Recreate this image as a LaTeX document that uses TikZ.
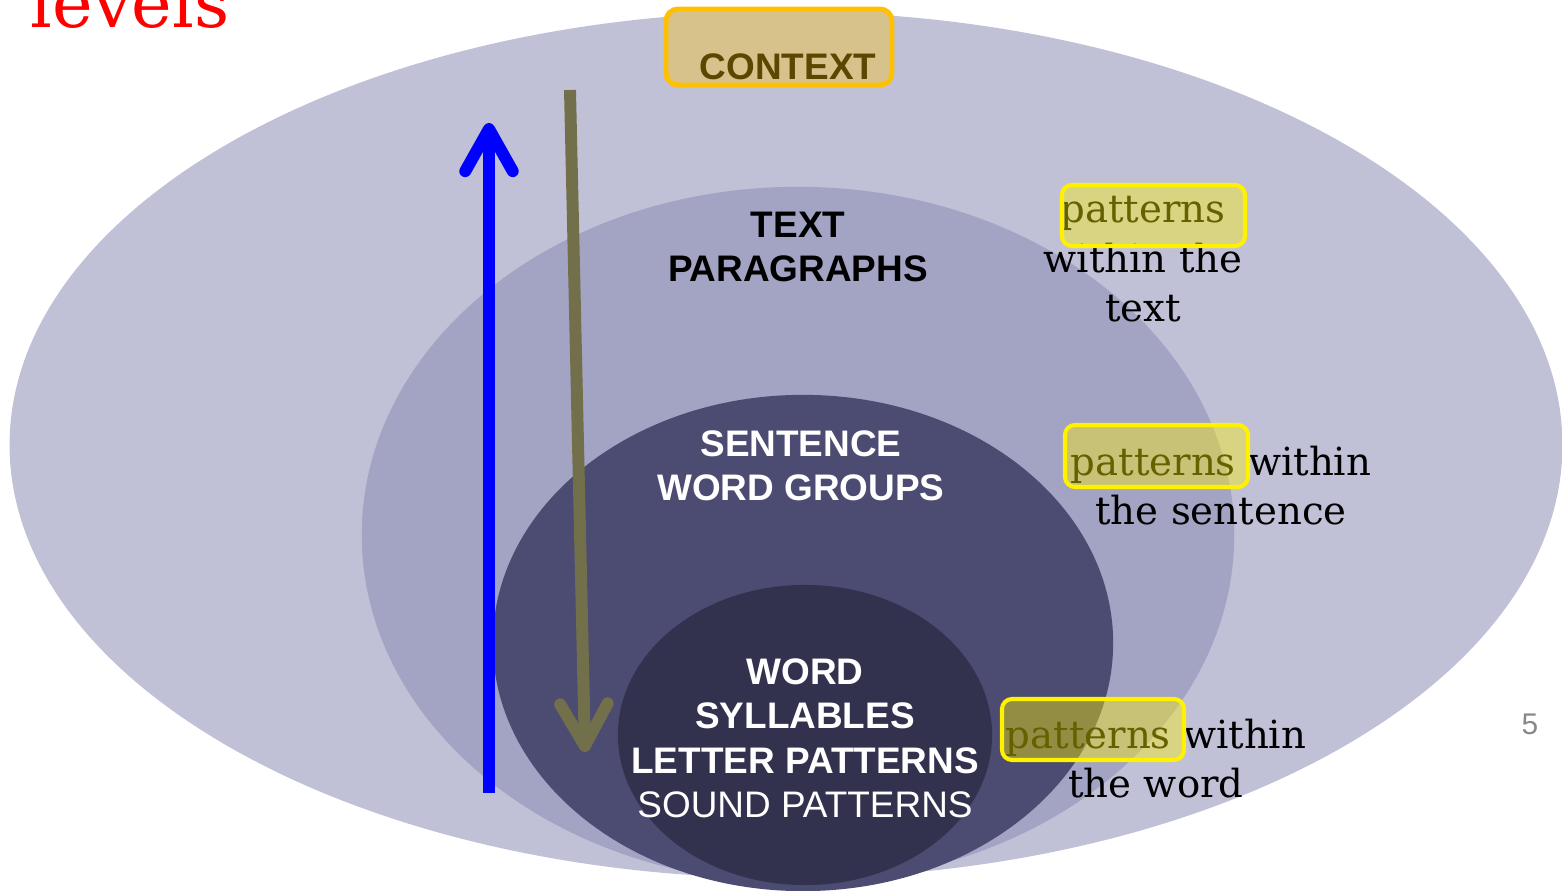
\documentclass[tikz,border=0pt]{standalone}
\usepackage{fontspec}
\setmainfont{Liberation Sans}
\newfontfamily\slabfont{DejaVu Serif}
\usetikzlibrary{arrows.meta}
\definecolor{ringA}{HTML}{C0C1D7}
\definecolor{ringB}{HTML}{A3A3C4}
\definecolor{ringC}{HTML}{4C4B71}
\definecolor{ringD}{HTML}{33324E}
\definecolor{ctxfill}{HTML}{D6C28A}
\definecolor{ctxline}{HTML}{FFC000}
\definecolor{ctxtext}{HTML}{5C4700}
\definecolor{downcol}{HTML}{71704B}
\definecolor{pagegray}{HTML}{888888}
\begin{document}
\begin{tikzpicture}[x=0.01cm,y=-0.01cm,
    ring/.style={fill=#1,draw=none},
    caps/.style={font=\fontsize{10.5}{12.7}\selectfont\bfseries,text=white,align=center,inner sep=0pt},
    note/.style={font=\slabfont\fontsize{11}{14.2}\selectfont,align=center,inner sep=0pt},
    hilite/.style={draw=yellow,fill=yellow,fill opacity=0.4,line width=1.15pt,rounded corners=0.1cm},
    flow/.style={line width=3.4pt,-{Straight Barb[length=12pt,width=13.5pt,round]}}]
    % Frame
    \useasboundingbox (0,0) rectangle (1562,891);
    % Rings
    \fill[ring=ringA] (786,445) ellipse [x radius=7.76cm,y radius=4.33cm];
    \fill[ring=ringB] (798,535) ellipse [x radius=4.36cm,y radius=3.48cm];
    \fill[ring=ringC] (803,643) ellipse [x radius=3.10cm,y radius=2.48cm];
    \fill[ring=ringD] (805,735) ellipse [x radius=1.87cm,y radius=1.50cm];
    % Title and page number
    \node[font=\slabfont\fontsize{19.5}{21}\selectfont,text=red,anchor=base west,inner sep=0pt] (title) at (30,28) {levels};
    \node[font=\fontsize{8.5}{10}\selectfont,text=pagegray,inner sep=0pt] (pgnum) at (1530,724) {5};
    % Context
    \draw[fill=ctxfill,draw=ctxline,line width=1.4pt,rounded corners=0.12cm] (666,9) rectangle (892,85);
    \node[caps,text=ctxtext,anchor=base] (ctx) at (788,80) {CONTEXT};
    % Levels (base = last line)
    \node[caps,text=black,anchor=base] (txt) at (798,282) {TEXT\\PARAGRAPHS};
    \node[caps,anchor=base] (sent) at (801,501) {SENTENCE\\WORD GROUPS};
    \node[caps,anchor=base] (word) at (805,818) {WORD\\SYLLABLES\\LETTER PATTERNS\\{\mdseries SOUND PATTERNS}};
    % Arrows
    \coordinate (upS) at (489,793);
    \coordinate (upE) at (489,123);
    \coordinate (dnS) at (570,90);
    \coordinate (dnE) at (585,752);
    \draw[flow,blue] (upS) -- (upE);
    \draw[flow,downcol] (dnS) -- (dnE);
    % Patterns
    \node[note,anchor=base] (pat1) at (1143,322) {patterns\\within the\\text};
    \node[note,anchor=base] (pat2) at (1221,525) {patterns within\\the sentence};
    \node[note,anchor=base] (pat3) at (1156,798) {patterns within\\the word};
    \draw[hilite] (1062,185) rectangle (1245,246);
    \draw[hilite] (1065,425) rectangle (1248,487);
    \draw[hilite] (1002,699) rectangle (1184,760);
\end{tikzpicture}
\end{document}
